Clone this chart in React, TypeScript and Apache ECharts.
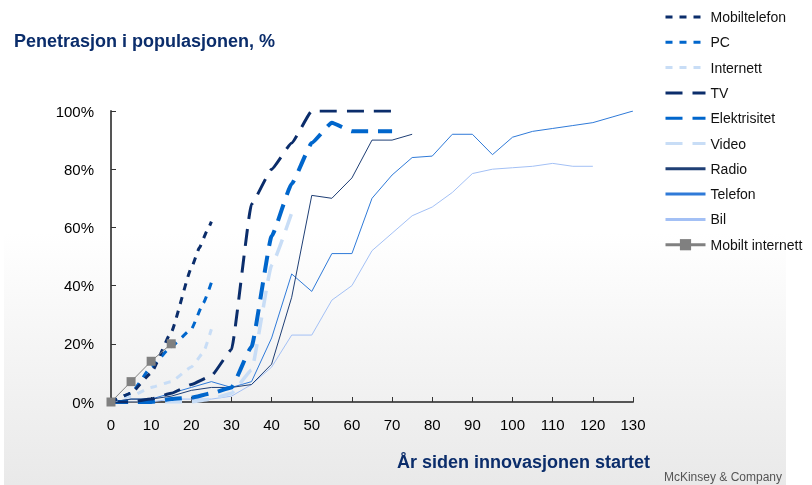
import React, { useEffect, useRef } from 'react';
import * as echarts from 'echarts';

const xTicks = [0, 130, 10];
const yTicks = [0, 100, 20];

const mobiltelefon = [[0, 0], [5, 3], [10, 10], [15, 24], [20, 46], [22, 53], [24, 59], [25, 62]];
const pc = [[0, 0], [5, 3], [10, 12], [15, 19], [20, 25], [23, 34], [25, 41]];
const internett = [[0, 0], [5, 2], [10, 5], [15, 7], [20, 12], [23, 17], [25, 25]];
const tv = [[0, 0], [5, 0], [10, 1], [15, 3], [20, 6], [25, 9], [30, 18], [35, 68], [40, 80], [45, 89], [50, 100], [55, 100], [60, 100], [65, 100], [70, 100]];
const elektrisitet = [[0, 0], [5, 0], [10, 0], [15, 1], [20, 1.5], [25, 3], [30, 5], [35, 19], [40, 57], [45, 75], [50, 89], [55, 96], [60, 93], [65, 93], [70, 93]];
const video = [[0, 0], [5, 0], [10, 0], [15, 0], [20, 0], [25, 1], [30, 3], [35, 11], [40, 47], [45, 65]];
const radio = [[0, 0], [5, 1], [10, 1], [15, 2], [20, 4], [25, 5], [30, 5], [35, 6], [40, 13], [45, 36], [50, 71], [55, 70], [60, 77], [65, 90], [70, 90], [75, 92]];
const telefon = [[0, 0], [5, 1], [10, 1], [15, 3], [20, 5], [25, 7], [30, 5], [35, 7], [40, 22], [45, 44], [50, 38], [55, 51], [60, 51], [65, 70], [70, 78], [75, 84], [80, 84.5], [85, 92], [90, 92], [95, 85], [100, 91], [105, 93], [110, 94], [115, 95], [120, 96], [125, 98], [130, 100]];
const bil = [[0, 0], [5, 0], [10, 0], [15, 1], [20, 1], [25, 1], [30, 2], [35, 6], [40, 12], [45, 23], [50, 23], [55, 35], [60, 40], [65, 52], [70, 58], [75, 64], [80, 67], [85, 72], [90, 78.5], [95, 80], [100, 80.5], [105, 81], [110, 82], [115, 81], [120, 81]];
const mobiltInternett = [[0, 0], [5, 7], [10, 14], [15, 20]];

const NAVY = '#0b2d6b';
const BLUE = '#0066cc';
const LIGHT = '#c8ddf6';
const FONT = '"Liberation Sans", Arial, Helvetica, sans-serif';

export default function App() {
  const ref = useRef<HTMLDivElement>(null);
  useEffect(() => {
    if (!ref.current) return;
    const chart = echarts.init(ref.current, undefined, { renderer: 'svg' });
    const shortDash = [7, 7];
    const longDash = [17, 10];
    const mk = (name: string, data: number[][], color: string, width: number, type: any, smooth: number | boolean) => ({
      name,
      type: 'line',
      data,
      symbol: 'none',
      smooth,
      smoothMonotone: 'x',
      lineStyle: { color, width, type },
      itemStyle: { color },
    });
    chart.setOption({
      animation: false,
      textStyle: { fontFamily: FONT },
      graphic: [
        {
          type: 'rect',
          z: -100,
          silent: true,
          shape: { x: 4, y: 0, width: 782, height: 485 },
          style: {
            fill: new echarts.graphic.LinearGradient(0, 0, 0, 1, [
              { offset: 0, color: '#ffffff' },
              { offset: 0.48, color: '#ffffff' },
              { offset: 1, color: '#e9e9e9' },
            ]),
          },
        },
        {
          type: 'text',
          left: 14,
          top: 32,
          style: { text: 'Penetrasjon i populasjonen, %', fill: NAVY, font: `bold 18px ${FONT}` },
        },
        {
          type: 'text',
          x: 650,
          y: 462,
          style: { text: 'År siden innovasjonen startet', fill: NAVY, font: `bold 18px ${FONT}`, align: 'right', verticalAlign: 'middle' },
        },
        {
          type: 'text',
          x: 782,
          y: 477,
          style: { text: 'McKinsey & Company', fill: '#555555', font: `12px "Liberation Sans Narrow", "Arial Narrow", ${FONT}`, align: 'right', verticalAlign: 'middle' },
        },
      ],
      legend: {
        orient: 'vertical',
        left: 659,
        top: 5,
        itemWidth: 40,
        itemHeight: 14,
        itemGap: 11.3,
        textStyle: { fontSize: 14, color: '#111', fontFamily: FONT },
        lineStyle: { width: 3 },
        itemStyle: { opacity: 0 },
        data: [
          'Mobiltelefon', 'PC', 'Internett', 'TV', 'Elektrisitet', 'Video', 'Radio', 'Telefon', 'Bil',
          { name: 'Mobilt internett', itemStyle: { opacity: 1 } },
        ],
      },
      grid: { left: 111, right: 179, top: 111, bottom: 83 },
      xAxis: {
        type: 'value',
        min: xTicks[0],
        max: xTicks[1],
        interval: xTicks[2],
        splitLine: { show: false },
        axisLine: { lineStyle: { color: '#555', width: 2 } },
        axisTick: { inside: true, length: 5, lineStyle: { color: '#333', width: 1 } },
        axisLabel: { color: '#000', fontSize: 15, margin: 15, fontFamily: FONT },
      },
      yAxis: {
        type: 'value',
        min: yTicks[0],
        max: yTicks[1],
        interval: yTicks[2],
        splitLine: { show: false },
        axisLine: { show: true, lineStyle: { color: '#555', width: 2 } },
        axisTick: { show: true, inside: true, length: 5, lineStyle: { color: '#333', width: 1 } },
        axisLabel: { color: '#000', fontSize: 15, margin: 17, fontFamily: FONT, formatter: '{value}%' },
      },
      series: [
        mk('Bil', bil, '#a3c0f5', 1, 'solid', false),
        mk('Telefon', telefon, '#2f7ad8', 1, 'solid', false),
        mk('Radio', radio, '#1f3f75', 1, 'solid', false),
        mk('Video', video, LIGHT, 3.5, longDash, 0.12),
        mk('Elektrisitet', elektrisitet, BLUE, 4, longDash, 0.12),
        mk('TV', tv, NAVY, 3, longDash, 0.12),
        mk('Internett', internett, LIGHT, 3, shortDash, 0.12),
        mk('PC', pc, BLUE, 3, shortDash, 0.12),
        mk('Mobiltelefon', mobiltelefon, NAVY, 3, shortDash, 0.12),
        {
          name: 'Mobilt internett',
          type: 'line',
          data: mobiltInternett,
          symbol: 'rect',
          symbolSize: 9,
          showSymbol: true,
          lineStyle: { color: '#808080', width: 1 },
          itemStyle: { color: '#808080' },
        },
      ],
    });
    return () => chart.dispose();
  }, []);
  return <div ref={ref} style={{ position: 'fixed', left: 0, top: 0, width: 812, height: 485 }} />;
}
